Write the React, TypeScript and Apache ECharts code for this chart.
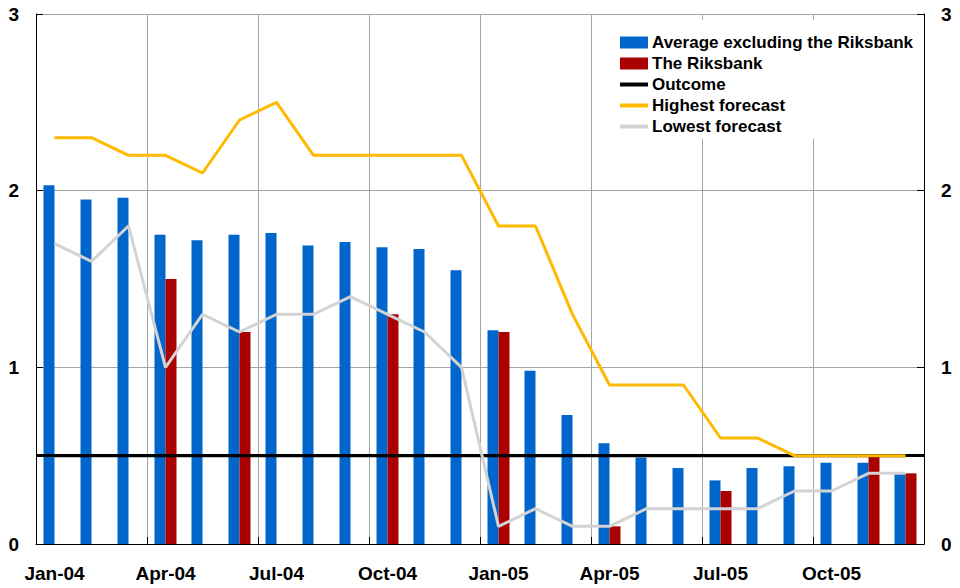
import React, { useEffect, useRef } from "react";
import * as echarts from "echarts";

const months = [
  "Jan-04", "Feb-04", "Mar-04", "Apr-04", "May-04", "Jun-04",
  "Jul-04", "Aug-04", "Sep-04", "Oct-04", "Nov-04", "Dec-04",
  "Jan-05", "Feb-05", "Mar-05", "Apr-05", "May-05", "Jun-05",
  "Jul-05", "Aug-05", "Sep-05", "Oct-05", "Nov-05", "Dec-05",
];

const averageExRiksbank = [
  2.03, 1.95, 1.96, 1.75, 1.72, 1.75, 1.76, 1.69, 1.71, 1.68, 1.67, 1.55,
  1.21, 0.98, 0.73, 0.57, 0.49, 0.43, 0.36, 0.43, 0.44, 0.46, 0.46, 0.40,
];

const riksbank: (number | null)[] = [
  null, null, null, 1.5, null, 1.2, null, null, null, 1.3, null, null,
  1.2, null, null, 0.1, null, null, 0.3, null, null, null, 0.5, 0.4,
];

const outcomeLevel = 0.5;

const highestForecast = [
  2.3, 2.3, 2.2, 2.2, 2.1, 2.4, 2.5, 2.2, 2.2, 2.2, 2.2, 2.2,
  1.8, 1.8, 1.3, 0.9, 0.9, 0.9, 0.6, 0.6, 0.5, 0.5, 0.5, 0.5,
];

const lowestForecast = [
  1.7, 1.6, 1.8, 1.0, 1.3, 1.2, 1.3, 1.3, 1.4, 1.3, 1.2, 1.0,
  0.1, 0.2, 0.1, 0.1, 0.2, 0.2, 0.2, 0.2, 0.3, 0.3, 0.4, 0.4,
];

const FONT = "'Liberation Sans', Arial, sans-serif";
const LINE_ICON = "path://M0,0H28V4H0Z";

export default function App() {
  const ref = useRef<HTMLDivElement>(null);

  useEffect(() => {
    if (!ref.current) return;
    const chart = echarts.init(ref.current, null, { renderer: "svg" });
    const axisLabelStyle = {
      fontFamily: FONT,
      fontWeight: "bold" as const,
      fontSize: 19,
      color: "#000",
    };
    const yCommon = {
      type: "value" as const,
      min: 0,
      max: 3,
      interval: 1,
      axisLine: { show: true, lineStyle: { color: "#000", width: 1 } },
      axisTick: { show: true, inside: true, length: 7, lineStyle: { color: "#000" } },
      axisLabel: { ...axisLabelStyle, margin: 17 },
    };
    chart.setOption({
      animation: false,
      backgroundColor: "#fff",
      grid: { left: 36, right: 36, top: 14, bottom: 44, containLabel: false },
      legend: {
        orient: "vertical",
        left: 614,
        top: 20,
        padding: [14, 6, 4, 6],
        backgroundColor: "#fff",
        itemWidth: 28,
        itemHeight: 12,
        itemGap: 4,
        symbolKeepAspect: true,
        textStyle: {
          fontFamily: FONT,
          fontWeight: "bold",
          fontSize: 17,
          color: "#000",
          lineHeight: 17,
          padding: [0, 0, 0, -1],
        },
        data: [
          { name: "Average excluding the Riksbank", icon: "rect" },
          { name: "The Riksbank", icon: "rect" },
          { name: "Outcome", icon: LINE_ICON },
          { name: "Highest forecast", icon: LINE_ICON },
          { name: "Lowest forecast", icon: LINE_ICON },
        ],
      },
      xAxis: {
        type: "category",
        data: months,
        boundaryGap: true,
        axisLine: { show: true, lineStyle: { color: "#000", width: 1 } },
        axisTick: { show: true, inside: true, length: 7, interval: 2, lineStyle: { color: "#000" } },
        axisLabel: { ...axisLabelStyle, interval: 2, margin: 20 },
        splitLine: { show: true, interval: 2, lineStyle: { color: "#a6a6a6", width: 1 } },
      },
      yAxis: [
        {
          ...yCommon,
          position: "left",
          splitLine: { show: true, lineStyle: { color: "#a6a6a6", width: 1 } },
        },
        {
          ...yCommon,
          position: "right",
          splitLine: { show: false },
        },
      ],
      series: [
        {
          name: "Average excluding the Riksbank",
          type: "bar",
          data: averageExRiksbank,
          barWidth: 11,
          barGap: "0%",
          itemStyle: { color: "#0066cc" },
        },
        {
          name: "The Riksbank",
          type: "bar",
          data: riksbank,
          barWidth: 11,
          barGap: "0%",
          itemStyle: { color: "#aa0000" },
        },
        {
          name: "Outcome",
          type: "line",
          data: months.map(() => outcomeLevel),
          symbol: "none",
          z: 3,
          lineStyle: { color: "#000", width: 3 },
          itemStyle: { color: "#000" },
          markLine: {
            silent: true,
            symbol: "none",
            z: 3,
            label: { show: false },
            emphasis: { disabled: true },
            lineStyle: { color: "#000", width: 3, type: "solid" },
            data: [{ yAxis: outcomeLevel }],
          },
        },
        {
          name: "Highest forecast",
          type: "line",
          data: highestForecast,
          symbol: "none",
          z: 6,
          lineStyle: { color: "#ffb900", width: 3 },
          itemStyle: { color: "#ffb900" },
        },
        {
          name: "Lowest forecast",
          type: "line",
          data: lowestForecast,
          symbol: "none",
          z: 6,
          lineStyle: { color: "#d3d3d3", width: 3 },
          itemStyle: { color: "#d3d3d3" },
        },
      ],
    });
    return () => chart.dispose();
  }, []);

  return <div ref={ref} style={{ width: 960, height: 588, position: "absolute", left: 0, top: 0 }} />;
}
